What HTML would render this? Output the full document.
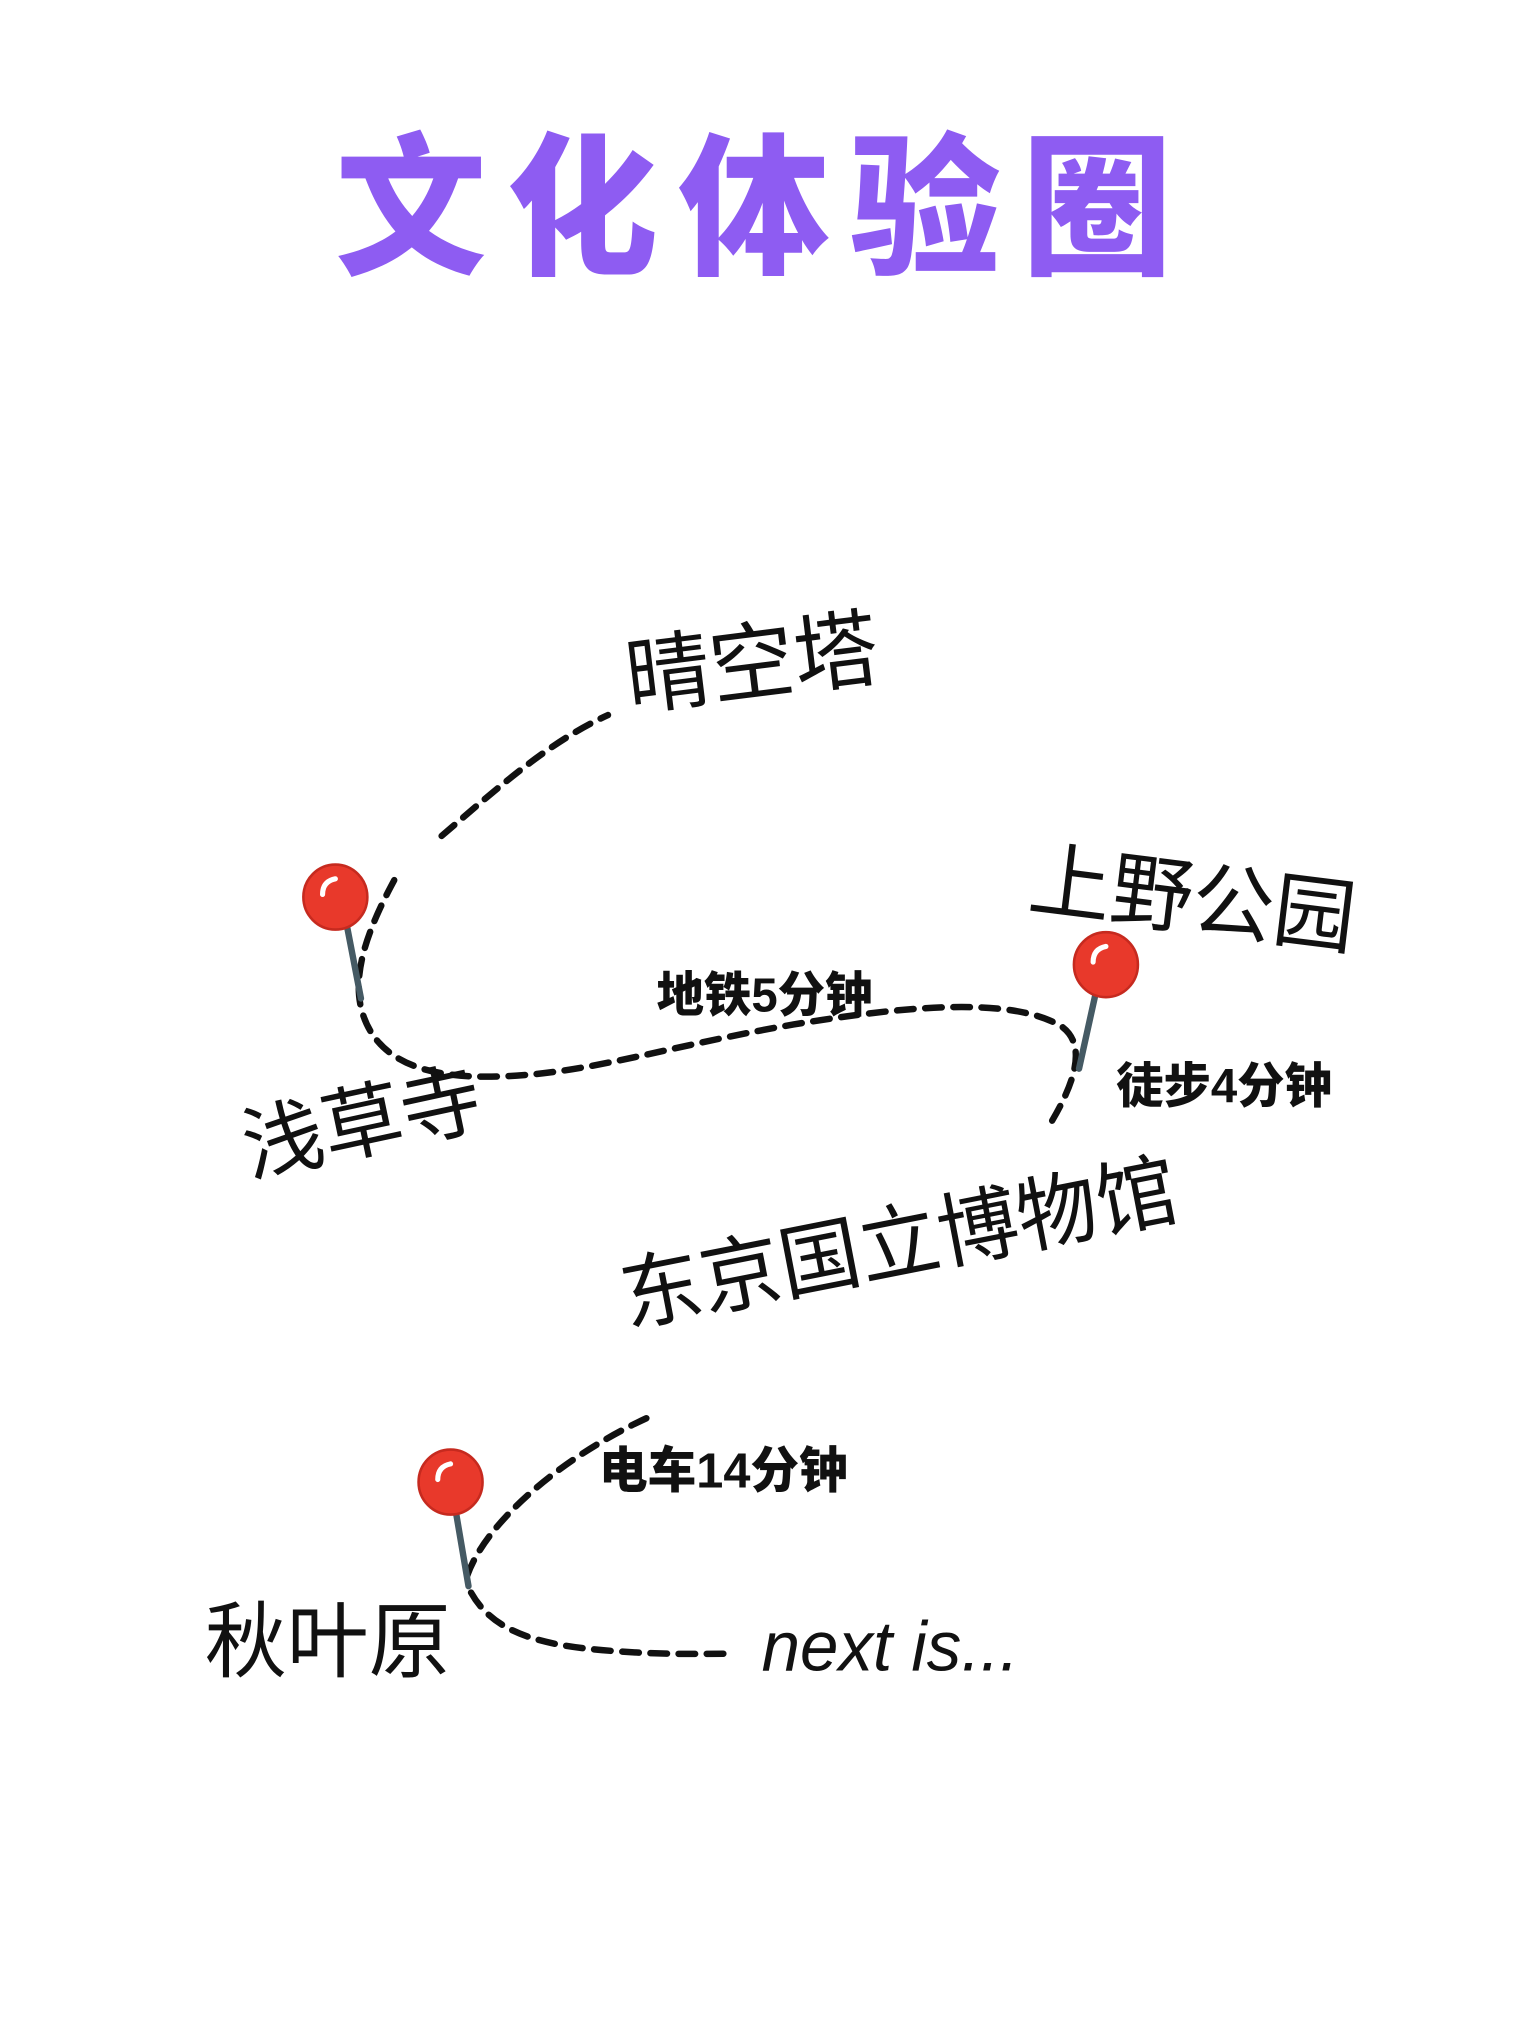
<!DOCTYPE html>
<html><head><meta charset="utf-8"><style>
html,body{margin:0;padding:0;background:#fff;width:1536px;height:2032px;overflow:hidden}
svg{display:block}
.hand{font-family:"Liberation Sans","Noto Sans CJK SC",sans-serif;font-weight:400;fill:#111}
.bold{font-family:"Liberation Sans","Noto Sans CJK SC",sans-serif;font-weight:900;fill:#111}
.d{fill:none;stroke:#111;stroke-width:5;stroke-dasharray:13 9;stroke-linecap:round}
</style></head><body>
<svg width="1536" height="2032" viewBox="0 0 1200 1563" preserveAspectRatio="none">
<text x="262" y="202" font-family="Liberation Sans,'Noto Sans CJK SC',sans-serif" font-weight="900" font-size="118" fill="#8e5cf2" letter-spacing="16">文化体验圈</text>

<path class="d" d="M345,643 C390,605 430,570 475,550"/>
<path class="d" d="M308,677 C290,710 275,745 282,775 C292,815 330,830 390,828 C460,826 520,805 620,788 C700,775 790,765 830,790 C850,805 838,835 822,862"/>
<path class="d" d="M365,1212 C380,1170 440,1120 507,1090"/>
<path class="d" d="M368,1225 C385,1255 420,1266 480,1270 C520,1273 545,1272 570,1272"/>

<g>
<line x1="271" y1="712" x2="282" y2="768" stroke="#455a64" stroke-width="5" stroke-linecap="round"/>
<circle cx="262" cy="690" r="25" fill="#e8392b" stroke="#c62a1f" stroke-width="2"/>
<path d="M252,688 Q252,678 262,676" stroke="#fff" stroke-width="4" fill="none" stroke-linecap="round"/>
</g>
<g>
<line x1="856" y1="764" x2="843" y2="822" stroke="#455a64" stroke-width="5" stroke-linecap="round"/>
<circle cx="864" cy="742" r="25" fill="#e8392b" stroke="#c62a1f" stroke-width="2"/>
<path d="M854,740 Q854,730 864,728" stroke="#fff" stroke-width="4" fill="none" stroke-linecap="round"/>
</g>
<g>
<line x1="356" y1="1162" x2="366" y2="1220" stroke="#455a64" stroke-width="5" stroke-linecap="round"/>
<circle cx="352" cy="1140" r="25" fill="#e8392b" stroke="#c62a1f" stroke-width="2"/>
<path d="M342,1138 Q342,1128 352,1126" stroke="#fff" stroke-width="4" fill="none" stroke-linecap="round"/>
</g>

<text class="hand" font-size="66" transform="translate(492,545) rotate(-7)">晴空塔</text>
<text class="hand" font-size="64" transform="translate(802,698) rotate(7)">上野公园</text>
<text class="hand" font-size="63" transform="translate(195,905) rotate(-12)">浅草寺</text>
<text class="hand" font-size="63" transform="translate(490,1020) rotate(-11)">东京国立博物馆</text>
<text class="hand" font-size="64" x="160" y="1285">秋叶原</text>
<text font-family="Liberation Sans,sans-serif" font-style="italic" font-size="54" fill="#111" x="595" y="1285">next is...</text>

<text class="bold" font-size="37" x="513" y="778">地铁5分钟</text>
<text class="bold" font-size="37" x="872" y="848">徒步4分钟</text>
<text class="bold" font-size="38" x="468" y="1144">电车14分钟</text>
</svg>
</body></html>
